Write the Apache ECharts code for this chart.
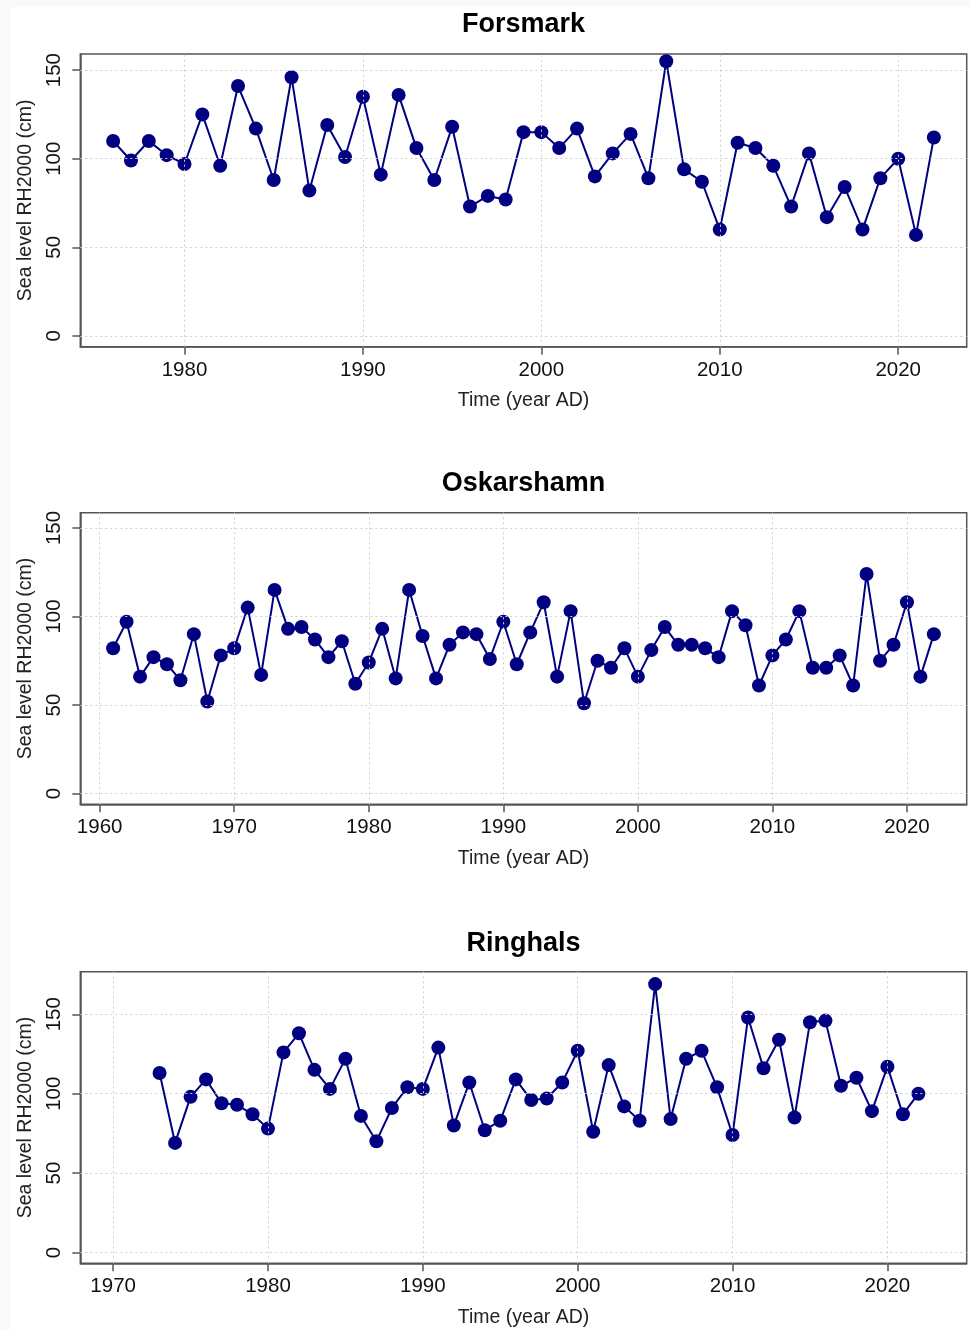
<!DOCTYPE html>
<html>
<head>
<meta charset="utf-8">
<script src="https://cdn.jsdelivr.net/npm/echarts@6/dist/echarts.min.js"></script>
<style>
html,body{margin:0;padding:0;background:#fff;}
#chart{width:970px;height:1330px;}
</style>
</head>
<body>
<div id="chart"></div>
<script>
// ---- Data ----
const titles = ['Forsmark', 'Oskarshamn', 'Ringhals'];

const forsmarkYears = [1976,1977,1978,1979,1980,1981,1982,1983,1984,1985,1986,1987,1988,1989,1990,1991,1992,1993,1994,1995,1996,1997,1998,1999,2000,2001,2002,2003,2004,2005,2006,2007,2008,2009,2010,2011,2012,2013,2014,2015,2016,2017,2018,2019,2020,2021,2022];
const forsmarkValues = [110,99,110,102,97,125,96,141,117,88,146,82,119,101,135,91,136,106,88,118,73,79,77,115,115,106,117,90,103,114,89,155,94,87,60,109,106,96,73,103,67,84,60,89,100,57,112];

const oskarshamnYears = [1961,1962,1963,1964,1965,1966,1967,1968,1969,1970,1971,1972,1973,1974,1975,1976,1977,1978,1979,1980,1981,1982,1983,1984,1985,1986,1987,1988,1989,1990,1991,1992,1993,1994,1995,1996,1997,1998,1999,2000,2001,2002,2003,2004,2005,2006,2007,2008,2009,2010,2011,2012,2013,2014,2015,2016,2017,2018,2019,2020,2021,2022];
const oskarshamnValues = [82,97,66,77,73,64,90,52,78,82,105,67,115,93,94,87,77,86,62,74,93,65,115,89,65,84,91,90,76,97,73,91,108,66,103,51,75,71,82,66,81,94,84,84,82,77,103,95,61,78,87,103,71,71,78,61,124,75,84,108,66,90];

const ringhalsYears = [1973,1974,1975,1976,1977,1978,1979,1980,1981,1982,1983,1984,1985,1986,1987,1988,1989,1990,1991,1992,1993,1994,1995,1996,1997,1998,1999,2000,2001,2002,2003,2004,2005,2006,2007,2008,2009,2010,2011,2012,2013,2014,2015,2016,2017,2018,2019,2020,2021,2022];
const ringhalsValues = [113,69,98,109,94,93,87,78,126,138,115,103,122,86,70,91,104,103,129,80,107,77,83,109,96,97,107,127,76,118,92,83,169,84,122,127,104,74,148,116,134,85,145,146,105,110,89,117,87,100];

const xTicks = [
  [1980,1990,2000,2010,2020],
  [1960,1970,1980,1990,2000,2010,2020],
  [1970,1980,1990,2000,2010,2020]
];
const yTicks = [0,50,100,150];

const xRanges = [[1974.16,2023.84],[1958.56,2024.44],[1967.88,2025.12]];
const yRanges = [[-6.12,159.1],[-6.1,158.6],[-6.8,176.8]];

const yearsList = [forsmarkYears, oskarshamnYears, ringhalsYears];
const valuesList = [forsmarkValues, oskarshamnValues, ringhalsValues];

// ---- Layout ----
const gridTops = [54, 512.7, 971.7];
const gridHeights = [292.7, 291.6, 291.6];
const titleTops = [11, 470, 930];
const FONT = '"Liberation Sans", Arial, sans-serif';
const AXIS_COLOR = '#555555';
const NAVY = '#000080';
const GRID_COLOR = '#cfcfcf';

const chart = echarts.init(document.getElementById('chart'), null, {renderer: 'canvas'});

const option = {
  backgroundColor: '#fafafa',
  animation: false,
  graphic: [{
    type: 'rect', left: 11, top: 7, z: -10,
    shape: {width: 970, height: 1330},
    style: {fill: '#ffffff'}
  }],
  title: titles.map((t, i) => ({
    text: t, left: 523.5, top: titleTops[i], textAlign: 'center', padding: 0,
    textStyle: {fontSize: 27, fontWeight: 'bold', fontFamily: FONT, color: '#000'}
  })),
  grid: gridTops.map((top, i) => ({
    left: 80.3, top: top, width: 886.4, height: gridHeights[i],
    show: true, borderColor: AXIS_COLOR, borderWidth: 1.5, backgroundColor: 'transparent',
    containLabel: false
  })),
  xAxis: xTicks.map((ticks, i) => ({
    type: 'value', gridIndex: i, min: xRanges[i][0], max: xRanges[i][1],
    name: 'Time (year AD)', nameLocation: 'middle', nameGap: 44,
    nameTextStyle: {fontSize: 19.5, fontFamily: FONT, color: '#222', verticalAlign: 'top'},
    axisLine: {show: true, onZero: false, lineStyle: {color: AXIS_COLOR, width: 1.5}},
    axisTick: {show: true, length: 8, customValues: ticks, lineStyle: {color: AXIS_COLOR, width: 1.5}},
    axisLabel: {show: true, customValues: ticks, margin: 13, fontSize: 20.5, fontFamily: FONT, color: '#111',
      formatter: v => String(v)},
    splitLine: {show: false}
  })),
  yAxis: yRanges.map((r, i) => ({
    type: 'value', gridIndex: i, min: r[0], max: r[1],
    name: 'Sea level RH2000 (cm)', nameLocation: 'middle', nameGap: 45,
    nameTextStyle: {fontSize: 19.5, fontFamily: FONT, color: '#222'},
    axisLine: {show: true, onZero: false, lineStyle: {color: AXIS_COLOR, width: 1.5}},
    axisTick: {show: true, length: 8, customValues: yTicks, lineStyle: {color: AXIS_COLOR, width: 1.5}},
    axisLabel: {show: true, customValues: yTicks, rotate: 90, margin: 15, fontSize: 20.5, fontFamily: FONT, color: '#111',
      formatter: v => String(v)},
    splitLine: {show: false}
  })),
  series: valuesList.map((vals, i) => ({
    type: 'line', xAxisIndex: i, yAxisIndex: i,
    data: yearsList[i].map((y, k) => [y, vals[k]]),
    symbol: 'circle', symbolSize: 14, showSymbol: true,
    lineStyle: {color: NAVY, width: 2},
    itemStyle: {color: NAVY, borderWidth: 0},
    markLine: {
      silent: true, symbol: 'none', label: {show: false},
      lineStyle: {color: GRID_COLOR, type: [2, 3], width: 1},
      animation: false,
      data: xTicks[i].map(t => ({xAxis: t})).concat(yTicks.map(t => ({yAxis: t})))
    }
  }))
};
chart.setOption(option);
</script>
</body>
</html>
